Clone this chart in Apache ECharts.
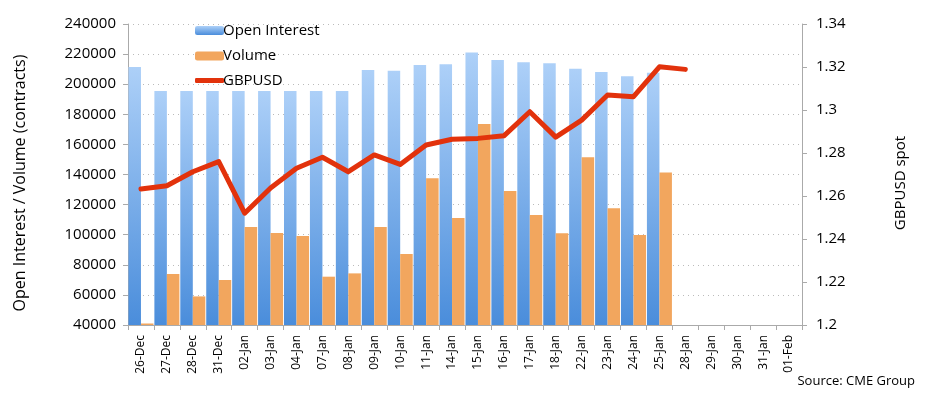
<!DOCTYPE html>
<html><head><meta charset="utf-8">
<script src="https://cdn.jsdelivr.net/npm/echarts@6/dist/echarts.min.js"></script>
<style>html,body{margin:0;padding:0;background:#fff}#c{width:925px;height:396px}</style>
</head><body><div id="c"></div>
<script>
const categories = ['26-Dec','27-Dec','28-Dec','31-Dec','02-Jan','03-Jan','04-Jan','07-Jan','08-Jan','09-Jan','10-Jan','11-Jan','14-Jan','15-Jan','16-Jan','17-Jan','18-Jan','22-Jan','23-Jan','24-Jan','25-Jan','28-Jan','29-Jan','30-Jan','31-Jan','01-Feb'];
const openInterest = [211500,195500,195500,195500,195500,195500,195500,195500,195500,209400,209000,212800,213200,221000,216100,214600,213900,210300,208100,205200,207600,null,null,null,null,null];
const volume = [41000,73900,59000,69900,105100,101100,99100,72100,74300,105100,87200,137500,111100,173500,129000,113100,100900,151400,117500,99800,141400,null,null,null,null,null];
const gbpusd = [1.2633,1.2648,1.2713,1.2760,1.2520,1.2637,1.2729,1.2780,1.2713,1.2791,1.2747,1.2837,1.2864,1.2868,1.2880,1.2992,1.2874,1.2953,1.3070,1.3062,1.3201,1.3189,null,null,null,null];
const leftTicks = {min:40000,max:240000,interval:20000};
const rightTicks = {min:1.2,max:1.34,interval:0.02};

const font = 'Open Sans, Lato, sans-serif';
const legendText = {fontSize:15,color:'#000',fontFamily:font,padding:[0,0,0,-6]};
const chart = echarts.init(document.getElementById('c'));
chart.setOption({
  animation:false,
  backgroundColor:'#fff',
  textStyle:{fontFamily:font,color:'#000'},
  grid:{left:128,right:123,top:24,bottom:71},
  legend:[{
    orient:'vertical',left:190,top:18,itemWidth:29,itemHeight:9,itemGap:10.5,
    textStyle:legendText,data:['Open Interest','Volume']
  },{
    orient:'vertical',left:190,top:68,itemWidth:29,itemHeight:5,
    textStyle:legendText,data:[{name:'GBPUSD',icon:'roundRect'}]
  }],
  xAxis:{
    type:'category',data:categories,boundaryGap:true,
    axisLine:{lineStyle:{color:'#aaa',width:1}},
    axisTick:{show:true,length:5,lineStyle:{color:'#aaa'}},
    axisLabel:{rotate:90,fontSize:12,color:'#000',margin:10,fontFamily:font}
  },
  yAxis:[{
    type:'value',min:leftTicks.min,max:leftTicks.max,interval:leftTicks.interval,
    axisLine:{show:true,lineStyle:{color:'#aaa'}},
    axisTick:{show:true,length:5,lineStyle:{color:'#aaa'}},
    axisLabel:{fontSize:15,color:'#000',margin:12,fontFamily:font,formatter:v=>String(v)},
    splitLine:{show:true,lineStyle:{color:'#bbb',type:[1,4],width:1}}
  },{
    type:'value',min:rightTicks.min,max:rightTicks.max,interval:rightTicks.interval,
    axisLine:{show:true,lineStyle:{color:'#aaa'}},
    axisTick:{show:true,length:5,lineStyle:{color:'#aaa'}},
    axisLabel:{fontSize:15,color:'#000',margin:14,fontFamily:font},
    splitLine:{show:false}
  }],
  series:[{
    name:'Open Interest',type:'bar',data:openInterest,barWidth:12.5,barGap:'0%',
    itemStyle:{color:new echarts.graphic.LinearGradient(0,0,0,1,[{offset:0,color:'#add0f8'},{offset:1,color:'#4a8ddb'}])}
  },{
    name:'Volume',type:'bar',data:volume,barWidth:12.5,barGap:'0%',
    itemStyle:{color:'#f2a65e'}
  },{
    name:'GBPUSD',type:'line',yAxisIndex:1,data:gbpusd,symbol:'none',
    lineStyle:{color:'#e2320c',width:5,cap:'round',join:'round'},itemStyle:{color:'#e2320c'},z:5
  }],
  graphic:[
    {type:'text',x:12,y:183,rotation:Math.PI/2,style:{text:'Open Interest / Volume (contracts)',fontSize:16,fill:'#000',fontFamily:font,align:'center',verticalAlign:'top'}},
    {type:'text',x:893,y:183,rotation:Math.PI/2,style:{text:'GBPUSD spot',fontSize:15,fill:'#000',fontFamily:font,align:'center',verticalAlign:'top'}},
    {type:'text',right:10,top:375,style:{text:'Source: CME Group',fontSize:13,fill:'#000',fontFamily:font}}
  ]
});
</script></body></html>
